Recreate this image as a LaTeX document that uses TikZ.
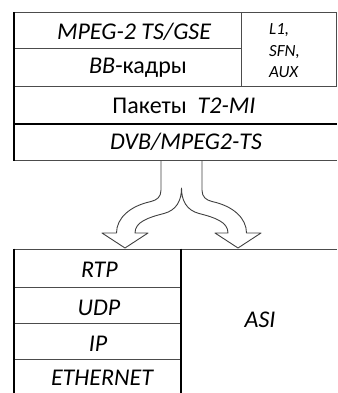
\documentclass[tikz,border=0pt]{standalone}
\usepackage{fontspec}
\setmainfont{Carlito}
\usetikzlibrary{calc}
\usetikzlibrary{positioning}
\def\lbl{\fontsize{24}{28}\selectfont}
\def\sml{\fontsize{17}{21.5}\selectfont}

\begin{document}
\begin{tikzpicture}[x=1pt,y=-1pt,
	  thin line/.style={draw=black!70,line width=1pt},
	  thick line/.style={draw=black,line width=1.8pt},
	  main label/.style={inner sep=0pt,font=\lbl\itshape},
	  side label/.style={inner sep=0pt,font=\sml\itshape,align=left,anchor=north west},
	  arrow shape/.style={draw=black!75,line width=0.9pt,line join=round}]

	  \useasboundingbox (0,0) rectangle (337,393);

	  % upper block
	  \draw[thin line] (14,13) -- (336,13) -- (336,87);
	  \draw[thin line] (14,49) -- (241,49);
	  \draw[thin line] (241,13) -- (241,87);
	  \draw[thin line] (14,87) -- (337,87);
	  \draw[thick line] (14,124) -- (337,124);
	  \draw[thin line] (14,160) -- (337,160);
	  \draw[thick line] (14,12.5) -- (14,160.5);

	  \node[main label] (mpeg) at (134,32) {MPEG-2 TS/GSE};
	  \node[main label] (bb) at (138,67.5) {BB\upshape-кадры};
	  \node[main label] (t2mi) at (184,105.5) {\upshape Пакеты\ \ \itshape T2-MI};
	  \node[main label] (dvb) at (186,142) {DVB/MPEG2-TS};
	  \node[side label] (aux) at (269,23.5) {L1,\\SFN,\\AUX};

	  % lower block
	  \draw[thin line] (14,249) -- (337,249);
	  \draw[thin line] (14,287) -- (181,287);
	  \draw[thin line] (14,323) -- (181,323);
	  \draw[thin line] (14,359) -- (181,359);
	  \draw[thick line] (14,248.5) -- (14,393);
	  \draw[thick line] (181,248.5) -- (181,393);

	  \node[main label] (rtp) at (99.5,269.5) {RTP};
	  \node[main label] (udp) at (99,308) {UDP};
	  \node[main label] (ip) at (98,344) {IP};
	  \node[main label] (eth) at (102,378) {ETHERNET};
	  \node[main label] (asi) at (260,320) {ASI};

	  % split arrow
	  \draw[arrow shape] (161,160.5) -- (161,190)
	  	.. controls (161,197) and (157,200) .. (151,201.5)
	  	.. controls (130,206) and (116.5,218) .. (116.5,233)
	  	-- (102,233) -- (125,248) -- (148,233) -- (135,233)
	  	.. controls (135,222) and (148,217.5) .. (164,213.5)
	  	.. controls (177,210) and (181.5,200) .. (181.5,188)
	  	.. controls (181.5,200) and (186,210) .. (199,213.5)
	  	.. controls (215,217.5) and (228,222) .. (228,233)
	  	-- (215,233) -- (238,248) -- (261,233) -- (246.5,233)
	  	.. controls (246.5,218) and (233,206) .. (212,201.5)
	  	.. controls (206,200) and (202,197) .. (202,190)
	  	-- (202,160.5);
\end{tikzpicture}
\end{document}
